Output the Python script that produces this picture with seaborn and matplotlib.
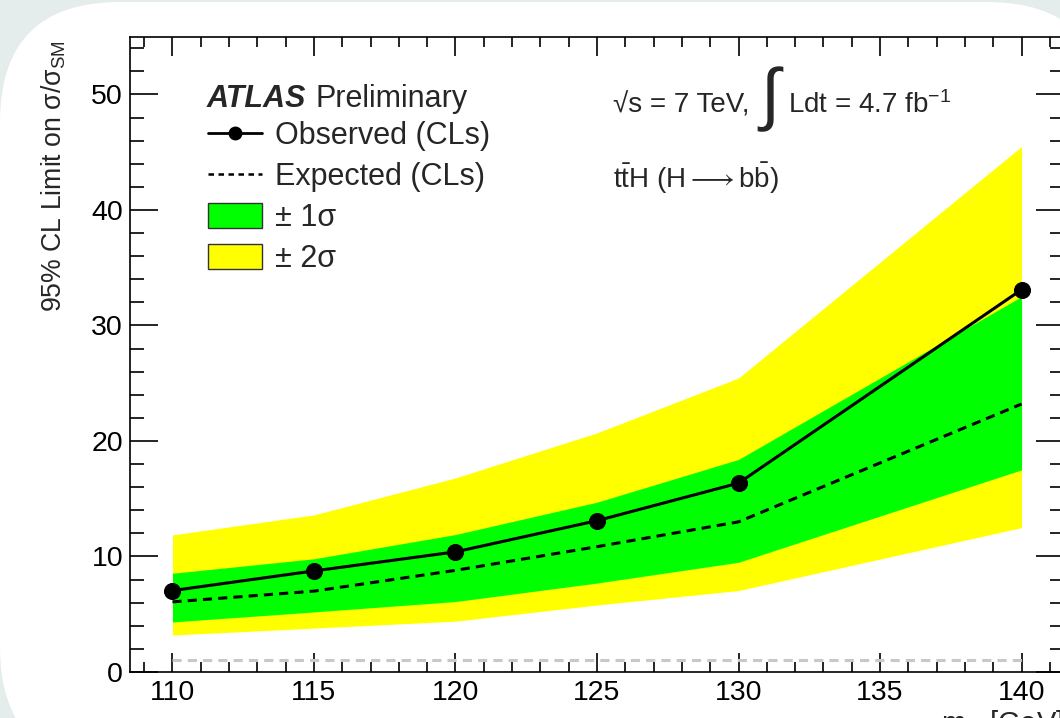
import matplotlib.pyplot as plt
import pandas as pd
import seaborn as sns
from matplotlib.lines import Line2D
from matplotlib.patches import FancyBboxPatch, Patch
from matplotlib.ticker import MultipleLocator

mass = [110, 115, 120, 125, 130, 140]
observed = [7.05, 8.75, 10.4, 13.1, 16.35, 33.1]
expected = [6.07, 7.0, 8.8, 10.85, 13.0, 23.2]
band1_lo = [4.33, 5.2, 6.1, 7.7, 9.5, 17.5]
band1_hi = [8.55, 9.8, 11.9, 14.7, 18.4, 32.5]
band2_lo = [3.2, 3.8, 4.4, 5.8, 7.05, 12.5]
band2_hi = [11.87, 13.6, 16.8, 20.7, 25.45, 45.5]
sm_line = 1

df = pd.DataFrame({'mass': mass, 'observed': observed, 'expected': expected})

sns.set_theme(style='ticks')
plt.rcParams['font.family'] = ['Liberation Sans', 'DejaVu Sans']
plt.rcParams['mathtext.fontset'] = 'custom'
plt.rcParams['mathtext.rm'] = 'Liberation Sans'
plt.rcParams['mathtext.it'] = 'Liberation Sans:italic'
plt.rcParams['mathtext.bf'] = 'Liberation Sans:bold'

fig = plt.figure(figsize=(10.6, 7.18), dpi=100, facecolor='#e4ecec')

# white rounded panel behind the plot (screenshot look)
panel = FancyBboxPatch((0.0, -0.49), 11.07, 7.65,
                       boxstyle='round,pad=0,rounding_size=1.2',
                       transform=fig.dpi_scale_trans,
                       facecolor='white', edgecolor='none', zorder=-1)
fig.patches.append(panel)

ax = fig.add_axes([130 / 1060, 46 / 718, 934 / 1060, 635.3 / 718])
ax.set_facecolor('white')

# bands
ax.fill_between(mass, band2_lo, band2_hi, color='#ffff00', lw=0, zorder=1)
ax.fill_between(mass, band1_lo, band1_hi, color='#00ff00', lw=0, zorder=2)

ax.hlines(sm_line, mass[0], mass[-1], colors='#c8c8c8',
          linestyles=(0, (3, 2)), lw=2.2, zorder=3)

sns.lineplot(data=df, x='mass', y='expected', color='black', lw=2.2,
             linestyle=(0, (3, 2)), ax=ax, zorder=4)
sns.lineplot(data=df, x='mass', y='observed', color='black', lw=2.2,
             marker='o', markersize=11.5, markeredgecolor='black', ax=ax, zorder=5)

ax.set_xlim(108.5, 141.5)
ax.set_ylim(0, 55)
ax.xaxis.set_major_locator(MultipleLocator(5))
ax.xaxis.set_minor_locator(MultipleLocator(1))
ax.yaxis.set_major_locator(MultipleLocator(10))
ax.yaxis.set_minor_locator(MultipleLocator(2))

ax.tick_params(which='both', direction='in', top=True, right=True,
               colors='black', width=1.2, labelsize=20.5)
ax.tick_params(axis='x', which='major', length=13.5, pad=6)
ax.tick_params(axis='x', which='minor', length=7)
ax.tick_params(axis='y', which='major', length=20, pad=5)
ax.tick_params(axis='y', which='minor', length=10)
for sp in ax.spines.values():
    sp.set_color('black')
    sp.set_linewidth(1.2)

ax.set_xlabel(r'm$_{\mathrm{H}}$ [GeV]', fontsize=21, loc='right')
ax.xaxis.set_label_coords(1.0, -0.057)
ax.set_ylabel(r'95% CL Limit on σ/σ$_{\mathrm{SM}}$', fontsize=19.2, loc='top')
ax.yaxis.set_label_coords(-0.066, 0.995)

# legend
handles = [
    Line2D([], [], color='black', lw=2, marker='o', markersize=9),
    Line2D([], [], color='black', lw=1.8, linestyle=(0, (2.2, 1.8))),
    Patch(facecolor='#00ff00', edgecolor='#333333', lw=1),
    Patch(facecolor='#ffff00', edgecolor='#333333', lw=1),
]
labels = ['Observed (CLs)', 'Expected (CLs)', '± 1σ', '± 2σ']
ax.legend(handles, labels, loc='upper left', bbox_to_anchor=(0.0835, 0.867),
          frameon=False, fontsize=22, handlelength=1.76, handleheight=0.85,
          handletextpad=0.42, labelspacing=0.36, borderpad=0, borderaxespad=0,
          numpoints=1)

ax.text(0.0824, 0.889, 'ATLAS', transform=ax.transAxes, fontsize=22,
        fontweight='bold', fontstyle='italic', va='baseline')
ax.text(0.199, 0.889, 'Preliminary', transform=ax.transAxes, fontsize=22,
        va='baseline')

ax.text(0.517, 0.88, '√s = 7 TeV,', transform=ax.transAxes, fontsize=20,
        va='baseline')
ax.text(0.671, 0.874, r'$\int$', transform=ax.transAxes, fontsize=50,
        va='baseline')
ax.text(0.7045, 0.88, r'Ldt = 4.7 fb$^{-1}$', transform=ax.transAxes,
        fontsize=20, va='baseline')
ax.text(0.517, 0.762, r'$\mathrm{t\bar{t}H\ (H \longrightarrow b\bar{b})}$',
        transform=ax.transAxes, fontsize=20, va='baseline')

fig.savefig('out.png', dpi=100, facecolor=fig.get_facecolor())
